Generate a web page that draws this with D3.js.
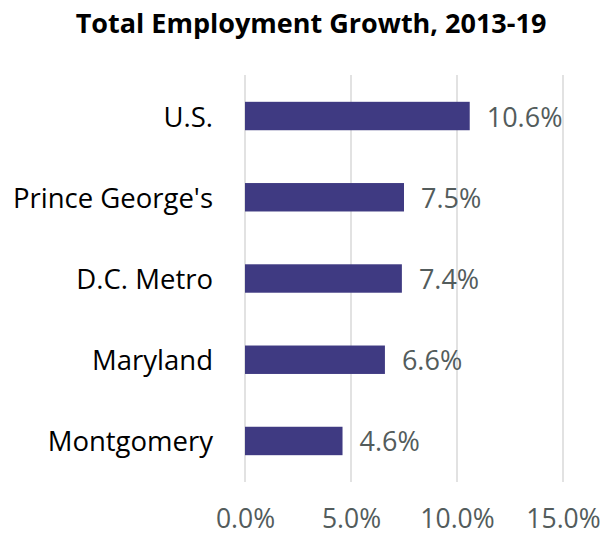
<!DOCTYPE html>
<html><head><meta charset="utf-8">
<script src="https://cdn.jsdelivr.net/npm/d3@7"></script>
<style>body{margin:0;background:#fff}svg{display:block}text{font-family:"Open Sans",sans-serif}</style>
</head><body><svg id="c" width="605" height="535"></svg>
<script>
const categories = ["U.S.", "Prince George's", "D.C. Metro", "Maryland", "Montgomery"];
const values = [10.6, 7.5, 7.4, 6.6, 4.6];
const ticks = [0, 5, 10, 15];
const title = "Total Employment Growth, 2013-19";

const svg = d3.select("#c");
const x = d3.scaleLinear().domain([0, 15]).range([245, 563]);
const y = d3.scaleBand().domain(categories).range([75, 482]).paddingInner(0.65).paddingOuter(0.33);

svg.append("text").attr("x", 311).attr("y", 33).attr("text-anchor", "middle")
  .style("font-weight", "bold").style("font-size", "27px").attr("fill", "#000").text(title);

svg.append("g").selectAll("line").data(ticks).join("line")
  .attr("x1", d => x(d)).attr("x2", d => x(d)).attr("y1", 75).attr("y2", 482)
  .attr("stroke", "#d9d9d9").attr("stroke-width", 1.5);

const xa = d3.axisBottom(x).tickValues(ticks).tickSize(0).tickPadding(0).tickFormat(d => d.toFixed(1) + "%");
const g = svg.append("g").attr("transform", "translate(0,528)").call(xa);
g.select(".domain").remove();
g.selectAll("text").attr("dy", null).style("font-size", "26.5px").attr("fill", "#535c5c").attr("font-family", "'Open Sans',sans-serif");

svg.append("g").selectAll("rect").data(values).join("rect")
  .attr("x", x(0)).attr("y", (d, i) => y(categories[i]))
  .attr("width", d => x(d) - x(0)).attr("height", y.bandwidth()).attr("fill", "#3f3a82");

svg.append("g").selectAll("text").data(values).join("text")
  .attr("x", d => x(d) + 17).attr("y", (d, i) => y(categories[i]) + y.bandwidth() / 2 + 10.5)
  .style("font-size", "27px").attr("fill", "#535c5c").text(d => d.toFixed(1) + "%");

svg.append("g").selectAll("text").data(categories).join("text")
  .attr("x", 213).attr("y", d => y(d) + y.bandwidth() / 2 + 10.5).attr("text-anchor", "end")
  .style("font-size", "27.5px").attr("fill", "#000").text(d => d);
</script></body></html>
